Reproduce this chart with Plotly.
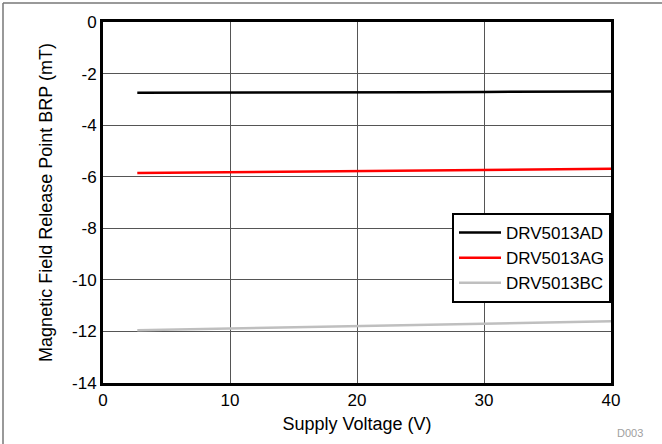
import plotly.graph_objects as go

voltage = [2.7, 5, 10, 15, 20, 25, 30, 35, 40]
drv5013ad = [-2.74, -2.74, -2.73, -2.73, -2.72, -2.72, -2.71, -2.71, -2.70]
drv5013ag = [-5.86, -5.85, -5.83, -5.81, -5.78, -5.76, -5.74, -5.72, -5.69]
drv5013bc = [-11.95, -11.93, -11.89, -11.84, -11.80, -11.75, -11.71, -11.66, -11.61]

x_ticks = [0, 10, 20, 30, 40]
y_ticks = [0, -2, -4, -6, -8, -10, -12, -14]
y_tick_labels = ["0", "-2", "-4", "-6", "-8", "-10", "-12", "-14"]

series = [
    ("DRV5013AD", drv5013ad, "#000000"),
    ("DRV5013AG", drv5013ag, "#ff0000"),
    ("DRV5013BC", drv5013bc, "#bfbfbf"),
]

W, H = 662, 444
L, R, T, B = 103, 51, 22, 61
pw, ph = W - L - R, H - T - B
FAM = "Liberation Sans, Arial, sans-serif"

fig = go.Figure()
for name, vals, col in series:
    fig.add_trace(go.Scatter(x=voltage, y=vals, mode="lines", name=name,
                             line=dict(color=col, width=2.5)))

fig.update_layout(
    width=W, height=H,
    margin=dict(l=L, r=R, t=T, b=B),
    paper_bgcolor="white", plot_bgcolor="white",
    font=dict(family=FAM, size=17, color="#000000"),
    showlegend=True,
    legend=dict(x=1, xanchor="right", y=1 - (213 - T) / ph, yanchor="top",
                bordercolor="#000000", borderwidth=2, bgcolor="white",
                font=dict(family=FAM, size=17, color="#000000"),
                itemwidth=42, tracegroupgap=0),
    xaxis=dict(range=[0, 40], tickvals=x_ticks, ticktext=[str(v) for v in x_ticks],
               showgrid=True, gridcolor="#555555", gridwidth=1,
               showline=True, linecolor="#000000", linewidth=3, mirror=True,
               zeroline=False, ticks="", tickfont=dict(size=17),
               title=dict(text="Supply Voltage (V)", standoff=8, font=dict(size=18))),
    yaxis=dict(range=[-14, 0], tickvals=y_ticks, ticktext=y_tick_labels,
               showgrid=True, gridcolor="#555555", gridwidth=1,
               showline=True, linecolor="#000000", linewidth=3, mirror=True,
               zeroline=False, ticks="", tickfont=dict(size=17),
               title=dict(text="Magnetic Field Release Point BRP (mT)", standoff=15,
                          font=dict(size=18))),
)

# outer frame lines (top and left) of the figure
x3 = (3 - L) / pw
y3 = 1 + (T - 3) / ph
fig.add_shape(type="line", xref="paper", yref="paper", x0=x3, x1=(W - L) / pw + 0.01,
              y0=y3, y1=y3, line=dict(color="#777777", width=1.5))
fig.add_shape(type="line", xref="paper", yref="paper", x0=x3, x1=x3,
              y0=y3, y1=-(B + 5) / ph, line=dict(color="#777777", width=1.5))

fig.add_annotation(text="D003", xref="paper", yref="paper",
                   x=(645 - L) / pw, y=-(433 - T - ph) / ph, xanchor="right", yanchor="middle",
                   showarrow=False, font=dict(family=FAM, size=11, color="#a0a0a0"))

fig.write_html("out.html", config={"displayModeBar": False},
               post_script="document.body.style.margin='0';document.body.style.overflow='hidden';")
